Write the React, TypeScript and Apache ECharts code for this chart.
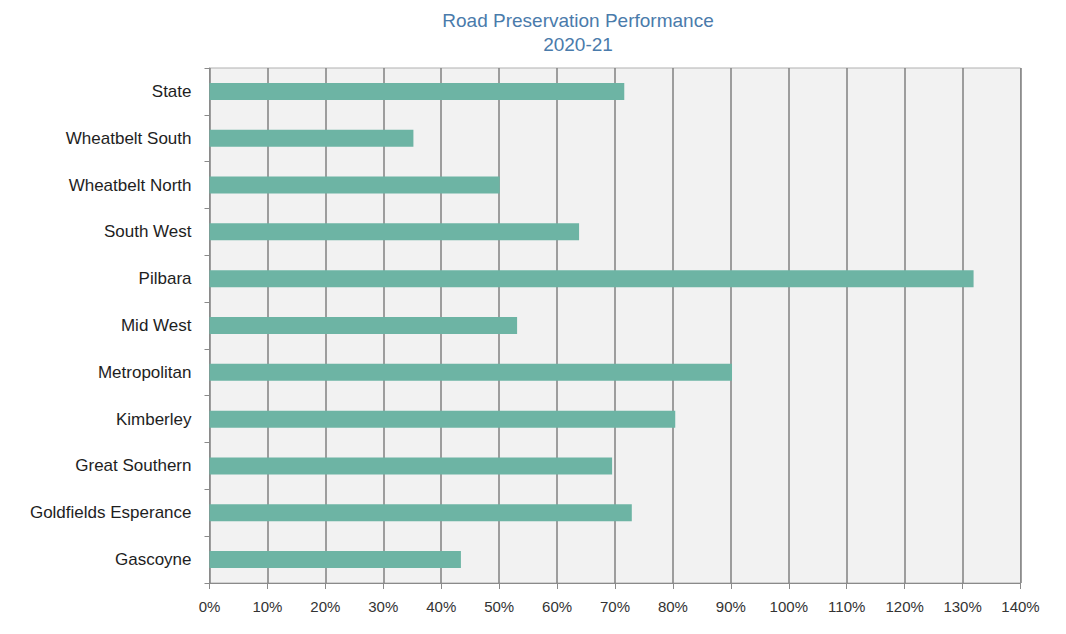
import React, { useEffect, useRef } from "react";
import * as echarts from "echarts";

const categories = [
  "State",
  "Wheatbelt South",
  "Wheatbelt North",
  "South West",
  "Pilbara",
  "Mid West",
  "Metropolitan",
  "Kimberley",
  "Great Southern",
  "Goldfields Esperance",
  "Gascoyne",
];
const values = [71.6, 35.2, 50.1, 63.8, 131.9, 53.1, 90.2, 80.4, 69.5, 72.9, 43.4];
const titleLines = ["Road Preservation Performance", "2020-21"];

export default function App() {
  const ref = useRef<HTMLDivElement>(null);
  useEffect(() => {
    if (!ref.current) return;
    const chart = echarts.init(ref.current, undefined, { renderer: "svg" });
    chart.setOption({
      animation: false,
      backgroundColor: "#ffffff",
      title: {
        text: titleLines.join("\n"),
        left: 573,
        textAlign: "center",
        top: 3,
        textStyle: {
          fontFamily: "Liberation Sans",
          fontSize: 19,
          fontWeight: "normal",
          color: "#4a7bab",
          lineHeight: 24,
        },
      },
      grid: {
        left: 209.5,
        right: 45.5,
        top: 68,
        bottom: 51,
        show: true,
        backgroundColor: "#f2f2f2",
        borderColor: "#b0b0b0",
        borderWidth: 1,
      },
      xAxis: {
        type: "value",
        min: 0,
        max: 140,
        interval: 10,
        axisLine: { show: true, lineStyle: { color: "#8a8a8a", width: 1 } },
        axisTick: { show: true, length: 6, lineStyle: { color: "#8a8a8a" } },
        splitLine: { show: true, lineStyle: { color: "#808080", width: 1.5 } },
        axisLabel: {
          formatter: "{value}%",
          fontFamily: "Liberation Sans",
          fontSize: 15,
          color: "#333",
          margin: 16,
        },
      },
      yAxis: {
        type: "category",
        data: categories,
        inverse: true,
        axisLine: { show: true, lineStyle: { color: "#8a8a8a", width: 1 } },
        axisTick: { show: true, length: 5, lineStyle: { color: "#8a8a8a" } },
        axisLabel: {
          fontFamily: "Liberation Sans",
          fontSize: 17,
          color: "#1e1e1e",
          margin: 18,
        },
      },
      series: [
        {
          type: "bar",
          data: values,
          barWidth: 17,
          itemStyle: { color: "#6db4a4" },
        },
      ],
    });
    return () => chart.dispose();
  }, []);
  return (
    <div
      ref={ref}
      style={{ position: "fixed", left: 0, top: 0, width: 1066, height: 634 }}
    />
  );
}
